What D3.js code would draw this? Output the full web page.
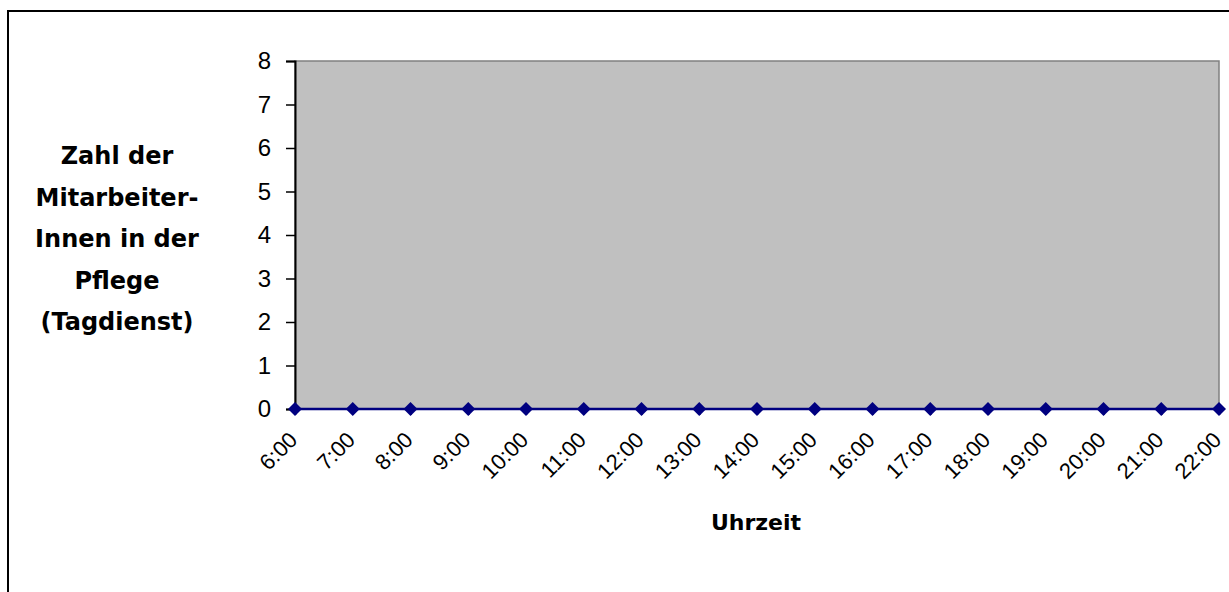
<!DOCTYPE html>
<html><head><meta charset="utf-8">
<script src="https://cdn.jsdelivr.net/npm/d3@7"></script>
<style>body{margin:0;background:#fff}svg{display:block}</style>
</head><body>
<svg id="c" width="1229" height="592"></svg>
<script>
const categories = ["6:00","7:00","8:00","9:00","10:00","11:00","12:00","13:00","14:00","15:00","16:00","17:00","18:00","19:00","20:00","21:00","22:00"];
const values = [0,0,0,0,0,0,0,0,0,0,0,0,0,0,0,0,0];
const yTicks = [0,1,2,3,4,5,6,7,8];
const yTitleLines = ["Zahl der","Mitarbeiter-","Innen in der","Pflege","(Tagdienst)"];
const xTitle = "Uhrzeit";

const svg = d3.select("#c");
const L=295, R=1219, T=61, B=409;
const x = d3.scalePoint().domain(categories).range([L,R]);
const y = d3.scaleLinear().domain([0,8]).range([B,T]);
const font = "'Liberation Sans', Arial, sans-serif";
const boldFont = "'DejaVu Sans', Verdana, sans-serif";

svg.append("rect").attr("x",8).attr("y",11).attr("width",1260).attr("height",620)
  .attr("fill","none").attr("stroke","#000").attr("stroke-width",2);

svg.append("rect").attr("x",L).attr("y",T).attr("width",R-L).attr("height",B-T)
  .attr("fill","#c0c0c0").attr("stroke","#808080").attr("stroke-width",1.5);

// y axis
const ya = svg.append("g").attr("transform",`translate(${L},0)`)
  .call(d3.axisLeft(y).tickValues(yTicks).tickSize(9).tickPadding(15).tickFormat(d3.format("d")));
ya.select(".domain").attr("stroke","#000").attr("stroke-width",2);
ya.selectAll(".tick line").attr("stroke","#000").attr("stroke-width",1.5);
ya.selectAll("text").attr("font-family",font).attr("font-size",24).attr("fill","#000");

// x axis
const xa = svg.append("g").attr("transform",`translate(0,${B})`)
  .call(d3.axisBottom(x).tickSize(6).tickPadding(0));
xa.select(".domain").remove();
xa.selectAll(".tick line").attr("stroke","#000").attr("stroke-width",1.5);
xa.selectAll("text").attr("font-family",font).attr("font-size",22).attr("fill","#000")
  .attr("text-anchor","end").attr("dy",0)
  .attr("transform","translate(-1,28) rotate(-45)");

// line + markers
svg.append("path").datum(values)
  .attr("d", d3.line().x((d,i)=>x(categories[i])).y(d=>y(d)))
  .attr("fill","none").attr("stroke","#000080").attr("stroke-width",2.5);
svg.selectAll(".m").data(values).join("path")
  .attr("transform",(d,i)=>`translate(${x(categories[i])},${y(d)})`)
  .attr("d","M0,-7L7,0L0,7L-7,0Z").attr("fill","#000080");

// y title
const yt = svg.append("text").attr("font-family",boldFont).attr("font-weight","bold")
  .attr("font-size",24).attr("text-anchor","middle").attr("fill","#000");
yTitleLines.forEach((t,i)=>yt.append("tspan").attr("x",117).attr("y",164+i*41.5).text(t));

svg.append("text").attr("x",756).attr("y",530).attr("text-anchor","middle")
  .attr("font-family",boldFont).attr("font-weight","bold").attr("font-size",22).text(xTitle);
</script>
</body></html>
